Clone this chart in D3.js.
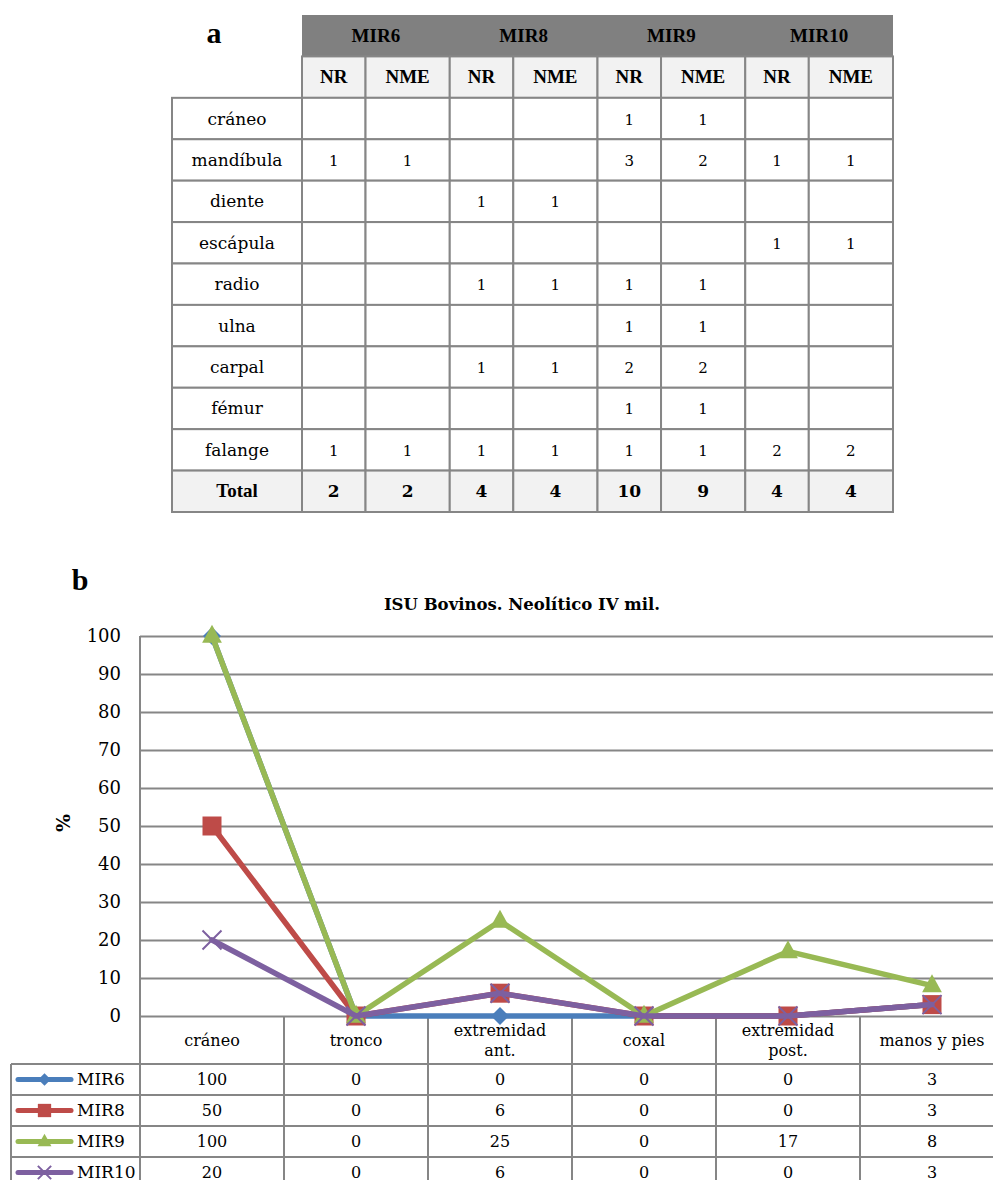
<!DOCTYPE html>
<html lang="es">
<head>
<meta charset="utf-8">
<title>ISU Bovinos. Neolítico IV mil.</title>
<script src="https://cdn.jsdelivr.net/npm/d3@7"></script>
<style>
  html, body { margin: 0; padding: 0; background: #fff; }
  svg { display: block; }
</style>
</head>
<body>
<script>
// ---- Table a: skeletal elements per site (NR / NME) ----
const tableParts = ["cráneo", "mandíbula", "diente", "escápula", "radio", "ulna", "carpal", "fémur", "falange"];
const sites = ["MIR6", "MIR8", "MIR9", "MIR10"];
const measures = ["NR", "NME"];

const mir6NR   = [null, 1, null, null, null, null, null, null, 1];
const mir6NME  = [null, 1, null, null, null, null, null, null, 1];
const mir8NR   = [null, null, 1, null, 1, null, 1, null, 1];
const mir8NME  = [null, null, 1, null, 1, null, 1, null, 1];
const mir9NR   = [1, 3, null, null, 1, 1, 2, 1, 1];
const mir9NME  = [1, 2, null, null, 1, 1, 2, 1, 1];
const mir10NR  = [null, 1, null, 1, null, null, null, null, 2];
const mir10NME = [null, 1, null, 1, null, null, null, null, 2];

// ---- Chart b: % by anatomical region ----
const regions = ["cráneo", "tronco", "extremidad ant.", "coxal", "extremidad post.", "manos y pies"];
const mir6Pct  = [100, 0, 0, 0, 0, 3];
const mir8Pct  = [50, 0, 6, 0, 0, 3];
const mir9Pct  = [100, 0, 25, 0, 17, 8];
const mir10Pct = [20, 0, 6, 0, 0, 3];
const yTicks = [0, 10, 20, 30, 40, 50, 60, 70, 80, 90, 100];

const counts = {
  MIR6:  { NR: mir6NR,  NME: mir6NME },
  MIR8:  { NR: mir8NR,  NME: mir8NME },
  MIR9:  { NR: mir9NR,  NME: mir9NME },
  MIR10: { NR: mir10NR, NME: mir10NME }
};

const serif = "'DejaVu Serif', 'Liberation Serif', serif";
const times = "'Liberation Serif', 'DejaVu Serif', serif";
const gridColor = "#868686";

const svg = d3.select("body").append("svg")
  .attr("width", 993).attr("height", 1180)
  .attr("viewBox", "0 0 993 1180");

// =============== Table a ===============
const ta = svg.append("g").attr("class", "table-a");
const rowKeys = ["head", "sub", ...tableParts, "Total"];
const rowY = d3.scaleBand().domain(rowKeys).range([15, 512]);
const siteX = d3.scaleBand().domain(sites).range([302, 893]);
const nrW = siteX.bandwidth() * 0.43;
const labelX0 = 172, labelX1 = 302;

const cols = sites.flatMap(s => measures.map(m => ({ site: s, m })));
const colX = c => siteX(c.site) + (c.m === "NR" ? 0 : nrW);
const colW = c => c.m === "NR" ? nrW : siteX.bandwidth() - nrW;
const rh = rowY.bandwidth();

ta.append("text")
  .attr("x", 214).attr("y", 43)
  .attr("text-anchor", "middle")
  .style("font-family", times).style("font-weight", "bold").style("font-size", "30px")
  .text("a");

// header band with site names
ta.append("rect")
  .attr("x", siteX.range()[0]).attr("y", rowY("head"))
  .attr("width", siteX.range()[1] - siteX.range()[0]).attr("height", rh)
  .attr("fill", "#808080");
ta.selectAll("text.site").data(sites).join("text")
  .attr("class", "site")
  .attr("x", s => siteX(s) + siteX.bandwidth() / 2)
  .attr("y", rowY("head") + rh / 2 + 6)
  .attr("text-anchor", "middle")
  .style("font-family", times).style("font-weight", "bold").style("font-size", "19px")
  .text(s => s);

// NR / NME sub-header
const sub = ta.selectAll("g.sub").data(cols).join("g").attr("class", "sub");
sub.append("rect")
  .attr("x", colX).attr("y", rowY("sub"))
  .attr("width", colW).attr("height", rh)
  .attr("fill", "#f2f2f2").attr("stroke", gridColor).attr("stroke-width", 2);
sub.append("text")
  .attr("x", c => colX(c) + colW(c) / 2)
  .attr("y", rowY("sub") + rh / 2 + 6)
  .attr("text-anchor", "middle")
  .style("font-family", times).style("font-weight", "bold").style("font-size", "19px")
  .text(c => c.m);

// body rows
const bodyRows = tableParts.map((p, i) => ({ key: p, label: p, total: false,
  vals: cols.map(c => counts[c.site][c.m][i]) }));
bodyRows.push({ key: "Total", label: "Total", total: true,
  vals: cols.map(c => d3.sum(counts[c.site][c.m])) });

const rows = ta.selectAll("g.row").data(bodyRows).join("g").attr("class", "row");
rows.append("rect")
  .attr("x", labelX0).attr("y", d => rowY(d.key))
  .attr("width", labelX1 - labelX0).attr("height", rh)
  .attr("fill", d => d.total ? "#f2f2f2" : "#fff")
  .attr("stroke", gridColor).attr("stroke-width", 2);
rows.append("text")
  .attr("x", (labelX0 + labelX1) / 2).attr("y", d => rowY(d.key) + rh / 2 + 6)
  .attr("text-anchor", "middle")
  .style("font-family", d => d.total ? times : serif)
  .style("font-weight", d => d.total ? "bold" : "normal")
  .style("font-size", d => d.total ? "19px" : "17px")
  .text(d => d.label);
rows.each(function (d) {
  const g = d3.select(this);
  const cells = g.selectAll("g.cell").data(cols.map((c, j) => ({ c, v: d.vals[j] }))).join("g").attr("class", "cell");
  cells.append("rect")
    .attr("x", e => colX(e.c)).attr("y", rowY(d.key))
    .attr("width", e => colW(e.c)).attr("height", rh)
    .attr("fill", d.total ? "#f2f2f2" : "#fff")
    .attr("stroke", gridColor).attr("stroke-width", 2);
  cells.append("text")
    .attr("x", e => colX(e.c) + colW(e.c) / 2)
    .attr("y", rowY(d.key) + rh / 2 + 6)
    .attr("text-anchor", "middle")
    .style("font-family", serif)
    .style("font-weight", d.total ? "bold" : "normal")
    .style("font-size", d.total ? "17px" : "15px")
    .text(e => e.v == null ? "" : e.v);
});

// =============== Chart b ===============
const cb = svg.append("g").attr("class", "chart-b");
const plotLeft = 140, plotRight = 993;
const y = d3.scaleLinear().domain([0, 100]).range([1016, 636]);
const x = d3.scaleBand().domain(regions).range([plotLeft, 1004]);

const series = [
  { name: "MIR6",  values: mir6Pct,  color: "#4a7ebb", marker: "diamond" },
  { name: "MIR8",  values: mir8Pct,  color: "#be4b48", marker: "square" },
  { name: "MIR9",  values: mir9Pct,  color: "#98b954", marker: "triangle" },
  { name: "MIR10", values: mir10Pct, color: "#7d60a0", marker: "x" }
];

cb.append("text")
  .attr("x", 80).attr("y", 590)
  .attr("text-anchor", "middle")
  .style("font-family", times).style("font-weight", "bold").style("font-size", "30px")
  .text("b");

cb.append("text")
  .attr("x", 522).attr("y", 610)
  .attr("text-anchor", "middle")
  .style("font-family", serif).style("font-weight", "bold").style("font-size", "16.5px")
  .text("ISU Bovinos. Neolítico IV mil.");

cb.append("text")
  .attr("transform", "translate(70,823) rotate(-90)")
  .attr("text-anchor", "middle")
  .style("font-family", serif).style("font-weight", "bold").style("font-size", "19px")
  .text("%");

// horizontal gridlines and value ticks
const yAxis = cb.append("g")
  .attr("transform", `translate(${plotLeft},0)`)
  .call(d3.axisLeft(y).tickValues(yTicks).tickSize(-(plotRight - plotLeft)).tickPadding(19));
yAxis.select(".domain").remove();
yAxis.selectAll(".tick line").attr("stroke", gridColor).attr("stroke-width", 2);
yAxis.selectAll(".tick text")
  .attr("fill", "#000")
  .style("font-family", serif).style("font-size", "18px");

// data table under the plot
const catTop = 1016, catBottom = 1064;
const tRowY = d3.scaleBand().domain(series.map(s => s.name)).range([catBottom, 1188]);
const legLeft = 11;
const tbl = cb.append("g").attr("class", "data-table");

// verticals
tbl.append("line")
  .attr("x1", plotLeft).attr("x2", plotLeft).attr("y1", y(100)).attr("y2", 1188)
  .attr("stroke", gridColor).attr("stroke-width", 2);
tbl.selectAll("line.vcol").data(regions.slice(1)).join("line")
  .attr("class", "vcol")
  .attr("x1", r => x(r)).attr("x2", r => x(r))
  .attr("y1", catTop).attr("y2", 1188)
  .attr("stroke", gridColor).attr("stroke-width", 2);
tbl.append("line")
  .attr("x1", legLeft).attr("x2", legLeft).attr("y1", catBottom).attr("y2", 1188)
  .attr("stroke", gridColor).attr("stroke-width", 2);
// horizontals
tbl.selectAll("line.hrow").data(series).join("line")
  .attr("class", "hrow")
  .attr("x1", legLeft).attr("x2", plotRight)
  .attr("y1", s => tRowY(s.name)).attr("y2", s => tRowY(s.name))
  .attr("stroke", gridColor).attr("stroke-width", 2);

// category labels (wrapped on the space before a trailing abbreviation)
const catLabels = tbl.selectAll("text.cat").data(regions).join("text")
  .attr("class", "cat")
  .attr("text-anchor", "middle")
  .style("font-family", serif).style("font-size", "16px");
catLabels.each(function (r) {
  const parts = r.startsWith("extremidad") ? r.split(" ") : [r];
  const t = d3.select(this);
  const cx = x(r) + x.bandwidth() / 2;
  const mid = (catTop + catBottom) / 2;
  parts.forEach((p, i) => {
    t.append("tspan")
      .attr("x", cx)
      .attr("y", mid + 6 + (i - (parts.length - 1) / 2) * 20)
      .text(p);
  });
});

// marker shapes
const markerPath = (type, s) => {
  if (type === "diamond") return `M0,${-s}L${s},0L0,${s}L${-s},0Z`;
  if (type === "square") return `M${-s},${-s}H${s}V${s}H${-s}Z`;
  if (type === "triangle") return `M0,${-s * 1.25}L${s * 1.1},${s * 0.75}L${-s * 1.1},${s * 0.75}Z`;
  return `M${-s},${-s}L${s},${s}M${-s},${s}L${s},${-s}`;
};
const markerSize = { diamond: 9, square: 9.5, triangle: 9, x: 9.5 };
const drawMarker = (sel, s, k = 1) => {
  if (s.marker === "x") {
    sel.attr("d", markerPath("x", markerSize.x * k))
      .attr("fill", "none").attr("stroke", s.color).attr("stroke-width", 2);
  } else {
    sel.attr("d", markerPath(s.marker, markerSize[s.marker] * k))
      .attr("fill", s.color).attr("stroke", "none");
  }
};

// value rows with legend keys
series.forEach(s => {
  const ry = tRowY(s.name), rmid = ry + tRowY.bandwidth() / 2;
  const g = tbl.append("g");
  g.append("line")
    .attr("x1", 18).attr("x2", 71).attr("y1", rmid).attr("y2", rmid)
    .attr("stroke", s.color).attr("stroke-width", 5).attr("stroke-linecap", "round");
  g.append("path").attr("transform", `translate(44.5,${rmid})`)
    .call(p => drawMarker(p, s, 0.7));
  g.append("text")
    .attr("x", 77).attr("y", rmid + 5)
    .style("font-family", serif).style("font-size", "17px")
    .text(s.name);
  g.selectAll("text.val").data(s.values).join("text")
    .attr("class", "val")
    .attr("x", (v, i) => x(regions[i]) + x.bandwidth() / 2)
    .attr("y", rmid + 5)
    .attr("text-anchor", "middle")
    .style("font-family", serif).style("font-size", "16px")
    .text(v => v);
});

// series lines and markers
const line = d3.line()
  .x((v, i) => x(regions[i]) + x.bandwidth() / 2)
  .y(v => y(v));
series.forEach(s => {
  const g = cb.append("g").attr("class", "series");
  g.append("path")
    .attr("d", line(s.values))
    .attr("fill", "none").attr("stroke", s.color)
    .attr("stroke-width", 5.5).attr("stroke-linejoin", "round").attr("stroke-linecap", "round");
  g.selectAll("path.mk").data(s.values).join("path")
    .attr("class", "mk")
    .attr("transform", (v, i) => `translate(${x(regions[i]) + x.bandwidth() / 2},${y(v)})`)
    .call(p => drawMarker(p, s));
});
</script>
</body>
</html>
